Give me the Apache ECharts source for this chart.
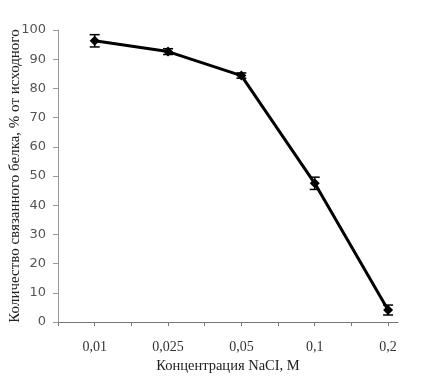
<!DOCTYPE html>
<html>
<head>
<meta charset="utf-8">
<script src="https://cdn.jsdelivr.net/npm/echarts@6/dist/echarts.min.js"></script>
<style>
  html, body { margin: 0; padding: 0; background: #fff; }
  #chart { width: 437px; height: 376px; }
</style>
</head>
<body>
<div id="chart"></div>
<script>
// данные
var categories = ['0,01', '0,025', '0,05', '0,1', '0,2'];
var values = [96.3, 92.6, 84.4, 47.5, 4.1];
var errors = [2.1, 1.0, 0.9, 2.1, 1.7];
var yTicks = [0, 10, 20, 30, 40, 50, 60, 70, 80, 90, 100];

// точки ставятся на нечётные деления оси (как в Excel)
function xPos(i) { return 2 * i + 1; }

var lineData = values.map(function (v, i) { return [xPos(i), v]; });
var errData = values.map(function (v, i) { return [xPos(i), v - errors[i], v + errors[i]]; });

var myChart = echarts.init(document.getElementById('chart'));
var option = {
  animation: false,
  backgroundColor: '#fff',
  grid: { left: 58, right: 39, top: 30, bottom: 54, outerBoundsMode: 'none' },
  xAxis: {
    type: 'value',
    min: 0,
    max: 9.27,
    interval: 1,
    name: 'Концентрация NaCI, M',
    nameLocation: 'middle',
    nameGap: 37,
    nameMoveOverlap: false,
    nameTextStyle: { fontFamily: 'Liberation Serif', fontSize: 14.5, color: '#222' },
    splitLine: { show: false },
    axisLine: { lineStyle: { color: '#777', width: 1 } },
    axisTick: { inside: false, length: 4, lineStyle: { color: '#777' } },
    axisLabel: {
      margin: 18,
      fontFamily: 'Liberation Serif',
      fontSize: 14,
      color: '#333',
      showMaxLabel: false,
      formatter: function (v) {
        if (v % 2 === 1) return categories[(v - 1) / 2] || '';
        return '';
      }
    }
  },
  yAxis: {
    type: 'value',
    min: yTicks[0],
    max: yTicks[yTicks.length - 1],
    interval: 10,
    name: 'Количество связанного белка, % от исходного',
    nameLocation: 'middle',
    nameRotate: 90,
    nameGap: 35,
    nameMoveOverlap: false,
    nameTextStyle: { fontFamily: 'Liberation Serif', fontSize: 15, color: '#222' },
    splitLine: { show: false },
    axisLine: { show: true, lineStyle: { color: '#999', width: 1 } },
    axisTick: { show: true, length: 5, lineStyle: { color: '#999' } },
    axisLabel: { fontFamily: 'DejaVu Sans', fontSize: 13, color: '#555', margin: 12 }
  },
  series: [
    {
      type: 'line',
      data: lineData,
      symbol: 'diamond',
      symbolSize: 10,
      lineStyle: { color: '#000', width: 3 },
      itemStyle: { color: '#000' },
      z: 3
    },
    {
      type: 'custom',
      data: errData,
      z: 4,
      renderItem: function (params, api) {
        var x = api.value(0);
        var lo = api.coord([x, api.value(1)]);
        var hi = api.coord([x, api.value(2)]);
        var w = 5;
        var st = { stroke: '#000', lineWidth: 1.5 };
        return {
          type: 'group',
          children: [
            { type: 'line', shape: { x1: lo[0], y1: lo[1], x2: hi[0], y2: hi[1] }, style: st },
            { type: 'line', shape: { x1: lo[0] - w, y1: lo[1], x2: lo[0] + w, y2: lo[1] }, style: st },
            { type: 'line', shape: { x1: hi[0] - w, y1: hi[1], x2: hi[0] + w, y2: hi[1] }, style: st }
          ]
        };
      }
    }
  ]
};
myChart.setOption(option, true);
</script>
</body>
</html>
